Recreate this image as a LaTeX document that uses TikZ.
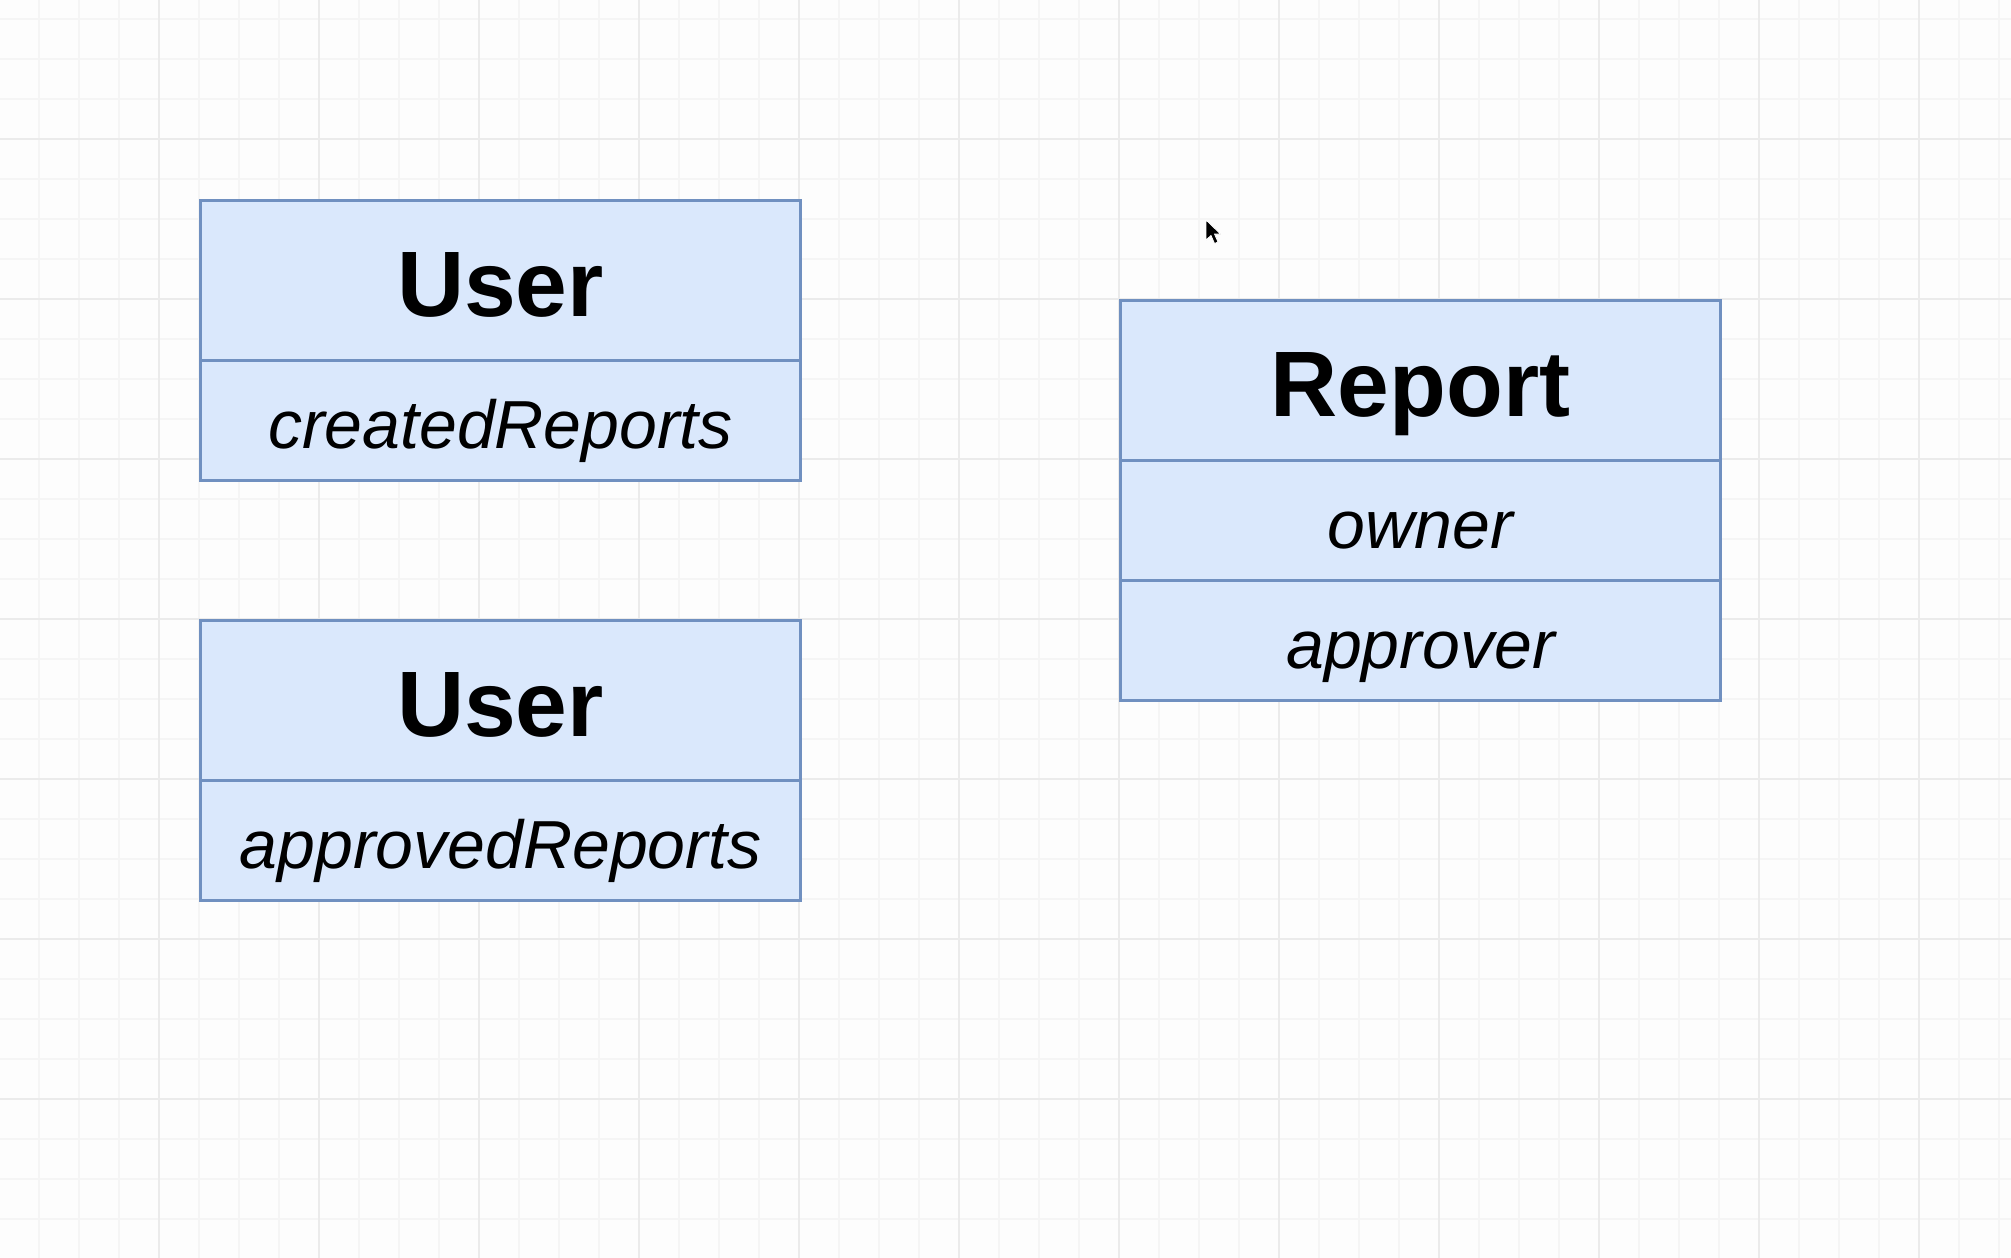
\documentclass[tikz,border=0pt]{standalone}
\usepackage{fontspec}
\setmainfont{Liberation Sans}
\definecolor{umlfill}{HTML}{DAE8FC}
\definecolor{umlline}{HTML}{7090C0}
\definecolor{bgcol}{HTML}{FDFDFD}
\definecolor{gridminor}{HTML}{F5F5F5}
\definecolor{gridmajor}{HTML}{EBEBEB}
\tikzset{
  cell/.style={draw=umlline, fill=umlfill, line width=3pt, minimum width=600pt,
               inner sep=0pt, anchor=north west, text=black},
  head/.style={cell, minimum height=160pt, font=\fontsize{93}{100}\selectfont\bfseries,
               text height=72pt, text depth=0pt},
  attr/.style={cell, minimum height=120pt, font=\fontsize{68}{80}\selectfont\itshape,
               text height=56pt, text depth=0pt},
  minorline/.style={draw=gridminor, line width=1.3pt},
  majorline/.style={draw=gridmajor, line width=1.8pt},
}
\begin{document}
\begin{tikzpicture}[x=1pt, y=-1pt]
\useasboundingbox (0,0) rectangle (2011,1258);
\fill[bgcol] (0,0) rectangle (2011,1258);
% grid
\foreach \x in {39,79,...,2011} \draw[minorline] (\x,0) -- (\x,1258);
\foreach \y in {19,59,...,1258} \draw[minorline] (0,\y) -- (2011,\y);
\foreach \x in {159,319,...,2011} \draw[majorline] (\x,0) -- (\x,1258);
\foreach \y in {139,299,...,1258} \draw[majorline] (0,\y) -- (2011,\y);
% User (created)
\node[head] (user1) at (199,199) {User};
\node[attr] (created) at (199,359) {createdReports};
% User (approved)
\node[head] (user2) at (199,619) {User};
\node[attr] (approved) at (199,779) {approvedReports};
% Report
\node[head] (report) at (1119,299) {Report};
\node[attr] (owner) at (1119,459) {owner};
\node[attr] (approver) at (1119,579) {approver};
% mouse pointer
\filldraw[fill=black, draw=white, line width=0.8pt, line join=round]
  (1206,220) -- (1206,240) -- (1211,235.5) -- (1214.5,243.5) -- (1218,242) -- (1214.5,234) -- (1220.5,234) -- cycle;
\end{tikzpicture}
\end{document}
